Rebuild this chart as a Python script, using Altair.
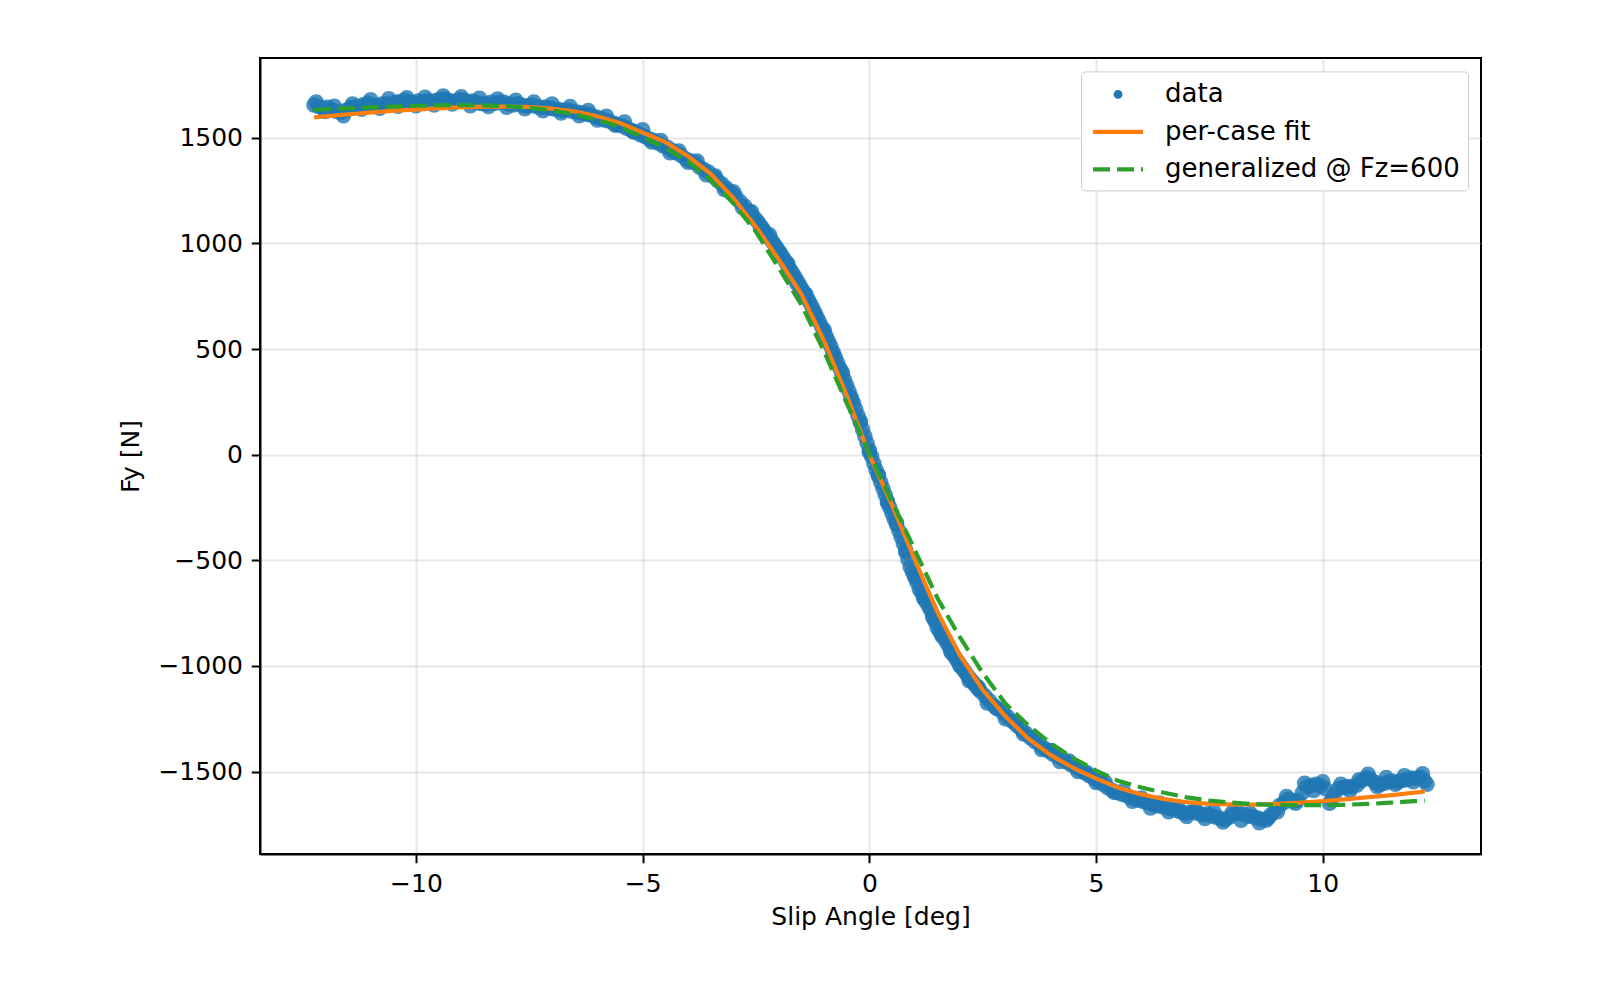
import altair as alt
import pandas as pd

FONT = "DejaVu Sans"
SERIES = ["data", "per-case fit", "generalized @ Fz=600"]
COLORS = ["#1f77b4", "#ff7f0e", "#2ca02c"]
# legend/plot symbol shapes: small dot for data, horizontal stroke for the curves
DOT_PATH = "M-0.185,0A0.185,0.185 0 1,0 0.185,0A0.185,0.185 0 1,0 -0.185,0Z"
SHAPES = [DOT_PATH, "M-2,0H2", "M-2,0H2"]
DASHES = [[1, 0], [1, 0], [17, 7]]

# measured data (slip angle [deg], Fy [N]) - first sweep
data_x = [
    -12.25, -12.15, -12.05, -11.95, -11.85, -11.75, -11.65, -11.55, -11.45, -11.35,
    -11.25, -11.15, -11.05, -10.95, -10.85, -10.75, -10.65, -10.55, -10.45, -10.35,
    -10.25, -10.15, -10.05, -9.95, -9.85, -9.75, -9.65, -9.55, -9.45, -9.35,
    -9.25, -9.15, -9.05, -8.95, -8.85, -8.75, -8.65, -8.55, -8.45, -8.35,
    -8.25, -8.15, -8.05, -7.95, -7.85, -7.75, -7.65, -7.55, -7.45, -7.35,
    -7.25, -7.15, -7.05, -6.95, -6.85, -6.75, -6.65, -6.55, -6.45, -6.35,
    -6.25, -6.15, -6.05, -5.95, -5.85, -5.75, -5.65, -5.55, -5.45, -5.35,
    -5.25, -5.15, -5.05, -4.95, -4.85, -4.75, -4.65, -4.55, -4.45, -4.35,
    -4.25, -4.15, -4.05, -3.95, -3.85, -3.75, -3.65, -3.55, -3.45, -3.35,
    -3.25, -3.15, -3.05, -2.95, -2.85, -2.75, -2.65, -2.55, -2.5, -2.45,
    -2.4, -2.35, -2.3, -2.25, -2.2, -2.15, -2.1, -2.05, -2.0, -1.95,
    -1.9, -1.85, -1.8, -1.75, -1.7, -1.65, -1.6, -1.55, -1.5, -1.45,
    -1.4, -1.35, -1.3, -1.25, -1.2, -1.15, -1.1, -1.05, -1.0, -0.95,
    -0.9, -0.85, -0.8, -0.75, -0.7, -0.65, -0.6, -0.55, -0.5, -0.45,
    -0.4, -0.35, -0.3, -0.25, -0.2, -0.15, -0.1, -0.05, 0.0, 0.05,
    0.1, 0.15, 0.2, 0.25, 0.3, 0.35, 0.4, 0.45, 0.5, 0.55,
    0.6, 0.65, 0.7, 0.75, 0.8, 0.85, 0.9, 0.95, 1.0, 1.05,
    1.1, 1.15, 1.2, 1.25, 1.3, 1.35, 1.4, 1.45, 1.5, 1.55,
    1.6, 1.65, 1.7, 1.75, 1.8, 1.85, 1.9, 1.95, 2.0, 2.05,
    2.1, 2.15, 2.2, 2.25, 2.3, 2.35, 2.4, 2.45, 2.55, 2.65,
    2.75, 2.85, 2.95, 3.05, 3.15, 3.25, 3.35, 3.45, 3.55, 3.65,
    3.75, 3.85, 3.95, 4.05, 4.15, 4.25, 4.35, 4.45, 4.55, 4.65,
    4.75, 4.85, 4.95, 5.05, 5.15, 5.25, 5.35, 5.45, 5.55, 5.65,
    5.75, 5.85, 5.95, 6.05, 6.15, 6.25, 6.35, 6.45, 6.55, 6.65,
    6.75, 6.85, 6.95, 7.05, 7.15, 7.25, 7.35, 7.45, 7.55, 7.65,
    7.75, 7.85, 7.95, 8.05, 8.15, 8.25, 8.35, 8.45, 8.55, 8.65,
    8.75, 8.85, 8.95, 9.05, 9.15, 9.25, 9.35, 9.45, 9.55, 9.65,
    9.75, 9.85, 9.95, 10.05, 10.15, 10.25, 10.35, 10.45, 10.55, 10.65,
    10.75, 10.85, 10.95, 11.05, 11.15, 11.25, 11.35, 11.45, 11.55, 11.65,
    11.75, 11.85, 11.95, 12.05, 12.15, 12.25, 12.3,
]
data_y = [
    1655, 1648, 1640, 1645, 1632, 1625, 1620, 1630, 1642, 1646,
    1650, 1658, 1664, 1655, 1652, 1660, 1662, 1656, 1668, 1672,
    1678, 1670, 1666, 1674, 1668, 1676, 1670, 1678, 1682, 1685,
    1676, 1672, 1680, 1678, 1670, 1674, 1666, 1662, 1660, 1668,
    1664, 1670, 1668, 1660, 1655, 1662, 1654, 1650, 1656, 1648,
    1644, 1646, 1640, 1636, 1634, 1630, 1632, 1625, 1622, 1618,
    1612, 1608, 1600, 1594, 1585, 1580, 1570, 1562, 1556, 1545,
    1536, 1528, 1515, 1506, 1495, 1487, 1474, 1462, 1454, 1440,
    1428, 1416, 1400, 1392, 1382, 1362, 1350, 1338, 1318, 1298,
    1282, 1262, 1240, 1225, 1198, 1178, 1150, 1124, 1112, 1100,
    1085, 1070, 1054, 1038, 1025, 1012, 997, 982, 966, 950,
    932, 915, 897, 878, 862, 845, 826, 808, 789, 770,
    752, 735, 715, 695, 672, 650, 628, 605, 582, 560,
    536, 512, 486, 460, 434, 408, 382, 355, 328, 300,
    272, 245, 215, 185, 152, 120, 88, 55, 22, -8,
    -42, -72, -102, -130, -160, -190, -220, -250, -278, -305,
    -332, -360, -390, -420, -450, -495, -530, -555, -580, -605,
    -635, -652, -672, -695, -715, -735, -760, -790, -820, -835,
    -850, -868, -886, -905, -925, -945, -962, -978, -994, -1010,
    -1025, -1040, -1055, -1068, -1082, -1095, -1108, -1120, -1142, -1165,
    -1188, -1205, -1222, -1240, -1262, -1282, -1300, -1318, -1340, -1358,
    -1370, -1388, -1402, -1418, -1428, -1440, -1455, -1468, -1478, -1490,
    -1505, -1520, -1530, -1545, -1560, -1575, -1588, -1598, -1606, -1612,
    -1620, -1628, -1636, -1642, -1648, -1655, -1662, -1665, -1670, -1676,
    -1682, -1690, -1698, -1694, -1690, -1698, -1705, -1700, -1710, -1716,
    -1722, -1728, -1715, -1700, -1696, -1702, -1710, -1714, -1718, -1726,
    -1730, -1705, -1680, -1660, -1645, -1630, -1640, -1635, -1600, -1572,
    -1566, -1560, -1568, -1580, -1650, -1610, -1580, -1575, -1570, -1572,
    -1565, -1545, -1530, -1535, -1550, -1562, -1556, -1548, -1545, -1550,
    -1542, -1538, -1530, -1532, -1528, -1545, -1560,
]

# measured data - second sweep (scatter around the first)
data2_x = [
    -12.2, -12.0, -11.8, -11.6, -11.4, -11.2, -11.0, -10.8, -10.6, -10.4,
    -10.2, -10.0, -9.8, -9.6, -9.4, -9.2, -9.0, -8.8, -8.6, -8.4,
    -8.2, -8.0, -7.8, -7.6, -7.4, -7.2, -7.0, -6.8, -6.6, -6.4,
    -6.2, -6.0, -5.8, -5.6, -5.4, -5.2, -5.0, -4.8, -4.6, -4.4,
    -4.2, -4.0, -3.8, -3.6, -3.4, -3.2, -3.0, -2.8, -2.6, -2.4,
    -2.2, -2.0, -1.8, -1.6, -1.4, -1.2, -1.0, -0.8, -0.6, -0.4,
    -0.2, 0.0, 0.2, 0.4, 0.6, 0.8, 1.0, 1.2, 1.4, 1.6,
    1.8, 2.0, 2.2, 2.4, 2.6, 2.8, 3.0, 3.2, 3.4, 3.6,
    3.8, 4.0, 4.2, 4.4, 4.6, 4.8, 5.0, 5.2, 5.4, 5.6,
    5.8, 6.0, 6.2, 6.4, 6.6, 6.8, 7.0, 7.2, 7.4, 7.6,
    7.8, 8.0, 8.2, 8.4, 8.6, 8.8, 9.0, 9.2, 9.4, 9.6,
    9.8, 10.0, 10.2, 10.4, 10.6, 10.8, 11.0, 11.2, 11.4, 11.6,
    11.8, 12.0, 12.2,
]
data2_y = [
    1670, 1625, 1650, 1605, 1660, 1635, 1680, 1640, 1685, 1650,
    1690, 1652, 1692, 1655, 1698, 1660, 1695, 1652, 1688, 1648,
    1684, 1645, 1678, 1638, 1670, 1628, 1660, 1618, 1648, 1605,
    1630, 1585, 1602, 1560, 1575, 1528, 1538, 1480, 1488, 1430,
    1438, 1385, 1390, 1325, 1320, 1255, 1245, 1170, 1150, 1072,
    1040, 955, 905, 810, 760, 660, 592, 475, 392, 262,
    160, 12, -95, -228, -322, -460, -570, -682, -770, -858,
    -935, -1000, -1070, -1100, -1175, -1200, -1250, -1265, -1322, -1338,
    -1395, -1400, -1452, -1450, -1500, -1505, -1552, -1550, -1598, -1592,
    -1640, -1625, -1672, -1648, -1690, -1668, -1712, -1680, -1722, -1690,
    -1738, -1695, -1730, -1698, -1742, -1720, -1690, -1618, -1650, -1555,
    -1590, -1548, -1630, -1560, -1590, -1538, -1512, -1570, -1528, -1560,
    -1520, -1548, -1510,
]

# per-case fit curve
fit_x = [-12.25, -11.5, -11.0, -10.5, -10.0, -9.5, -9.0, -8.5, -8.0, -7.5,
         -7.0, -6.5, -6.0, -5.5, -5.0, -4.5, -4.0, -3.5, -3.0, -2.5,
         -2.0, -1.5, -1.0, -0.5, 0.0, 0.5, 1.0, 1.5, 2.0, 2.5,
         3.0, 3.5, 4.0, 4.5, 5.0, 5.5, 6.0, 6.5, 7.0, 7.5,
         8.0, 8.5, 9.0, 9.5, 10.0, 10.5, 11.0, 11.5, 12.0, 12.25]
fit_y = [1597, 1611, 1620, 1628, 1634, 1640, 1645, 1647, 1648, 1646,
         1638, 1625, 1602, 1570, 1525, 1480, 1413, 1330, 1215, 1078,
         925, 760, 540, 280, 0, -238, -495, -745, -950, -1113,
         -1238, -1343, -1422, -1483, -1533, -1577, -1608, -1630, -1645, -1652,
         -1655, -1656, -1653, -1647, -1640, -1631, -1621, -1612, -1600, -1594]

# generalized model @ Fz=600
gen_x = fit_x
gen_y = [1633, 1640, 1644, 1648, 1652, 1654, 1655, 1654, 1650, 1642,
         1630, 1612, 1585, 1552, 1503, 1452, 1388, 1300, 1190, 1055,
         885, 710, 490, 245, 5, -222, -450, -678, -865, -1033,
         -1178, -1280, -1366, -1437, -1495, -1545, -1575, -1600, -1622, -1637,
         -1647, -1654, -1658, -1659, -1659, -1657, -1653, -1647, -1640, -1637]

X_TICKS = [-10, -5, 0, 5, 10]
Y_TICKS = [-1500, -1000, -500, 0, 500, 1000, 1500]

df_data = pd.DataFrame({"x": data_x + data2_x, "y": data_y + data2_y, "series": SERIES[0]})
df_fit = pd.DataFrame({"x": fit_x, "y": fit_y, "series": SERIES[1]})
df_gen = pd.DataFrame({"x": gen_x, "y": gen_y, "series": SERIES[2]})

xscale = alt.Scale(domain=[-13.44, 13.49], nice=False, zero=False)
yscale = alt.Scale(domain=[-1890, 1878], nice=False, zero=False)

axis_common = dict(
    labelFont=FONT, labelFontSize=25, labelColor="black",
    titleFont=FONT, titleFontSize=25, titleFontWeight="normal", titleColor="black",
    tickColor="black", tickWidth=2, tickSize=8.75, labelPadding=8.75,
    domainColor="black", domainWidth=2,
    grid=True, gridColor="#b0b0b0", gridOpacity=0.3, gridWidth=2,
    format="d",
)

x_enc = alt.X("x:Q", scale=xscale,
              axis=alt.Axis(values=X_TICKS, title="Slip Angle [deg]", titlePadding=8, **axis_common))
y_enc = alt.Y("y:Q", scale=yscale,
              axis=alt.Axis(values=Y_TICKS, title="Fy [N]", titlePadding=14, **axis_common))


def make_legend():
    return alt.Legend(
        orient="none", legendX=821, legendY=13.4, title=None,
        labelFont=FONT, labelFontSize=26, labelColor="black", labelLimit=600,
        labelOffset=32, rowPadding=9.5, padding=8,
        strokeColor="#cccccc", fillColor="white", cornerRadius=4,
        symbolSize=625, symbolStrokeWidth=4.2, symbolOpacity=1, symbolOffset=14,
    )


color_enc = alt.Color("series:N", scale=alt.Scale(domain=SERIES, range=COLORS), legend=make_legend())
shape_enc = alt.Shape("series:N", scale=alt.Scale(domain=SERIES, range=SHAPES), legend=make_legend())
dash_enc = alt.StrokeDash("series:N", scale=alt.Scale(domain=SERIES, range=DASHES), legend=make_legend())

pts = alt.Chart(df_data).mark_point(filled=True, size=7000, opacity=0.8).encode(
    x=x_enc, y=y_enc, color=color_enc, shape=shape_enc
)
fit = alt.Chart(df_fit).mark_line(strokeWidth=4.2).encode(
    x="x:Q", y="y:Q", color=color_enc, strokeDash=dash_enc
)
gen = alt.Chart(df_gen).mark_line(strokeWidth=4.2).encode(
    x="x:Q", y="y:Q", color=color_enc, strokeDash=dash_enc
)

chart = alt.layer(pts, fit, gen).properties(
    width=1221, height=796,
    background="white",
    autosize=alt.AutoSizeParams(type="none"),
    padding={"left": 252, "top": 50, "right": 110, "bottom": 140},
).configure_view(
    stroke="black", strokeWidth=2
)

chart.save("out.html", embed_options={"renderer": "svg", "actions": False})
